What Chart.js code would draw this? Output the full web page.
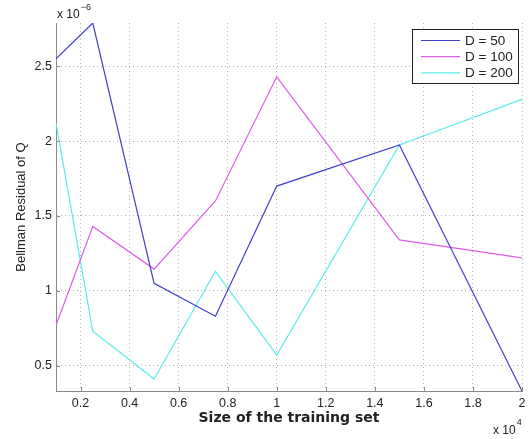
<!DOCTYPE html>
<html>
<head>
<meta charset="utf-8">
<script src="https://cdn.jsdelivr.net/npm/chart.js@4.4.1/dist/chart.umd.min.js"></script>
<style>
    html, body { margin: 0; padding: 0; background: #fff; }
    #wrap { width: 532px; height: 439px; }
</style>
</head>
<body>
<div id="wrap"><canvas id="residual_chart" width="532" height="439"></canvas></div>
<script>
// training set size (x 10^4)
const sizes = [0.1, 0.25, 0.5, 0.75, 1, 1.5, 2];
// Bellman residual of Q (x 10^-6)
const resD50 = [2.55, 2.79, 1.05, 0.83, 1.70, 1.975, 0.33];
const resD100 = [0.77, 1.43, 1.145, 1.60, 2.43, 1.34, 1.22];
const resD200 = [2.12, 0.73, 0.41, 1.13, 0.57, 1.975, 2.28];
const seriesNames = ['D = 50', 'D = 100', 'D = 200'];
const xTicks = [0.2, 0.4, 0.6, 0.8, 1, 1.2, 1.4, 1.6, 1.8, 2];
const yTicks = [0.5, 1, 1.5, 2, 2.5];

const FONT = '"Liberation Sans", Arial, sans-serif';
const colors = ['#3f3fcc', '#de5ee6', '#5cecec'];

function toPoints(values) {
    return sizes.map(function (x, i) {
        return {x: x, y: values[i]};
    });
}

function makeDataset(label, values, color) {
    return {
        label: label,
        data: toPoints(values),
        borderColor: color,
        backgroundColor: color,
        borderWidth: 1.2,
        pointRadius: 0,
        tension: 0,
        fill: false
    };
}

// axis labels, exponents, inner tick marks and the boxed legend, MATLAB style
const decorations = {
    id: 'decorations',
    afterDraw: function (chart) {
        const ctx = chart.ctx;
        const area = chart.chartArea;
        const xs = chart.scales.x;
        const ys = chart.scales.y;
        ctx.save();

        // small ticks pointing into the plot
        ctx.strokeStyle = '#8a8a8a';
        ctx.lineWidth = 1;
        ctx.beginPath();
        xTicks.forEach(function (v) {
            const px = Math.round(xs.getPixelForValue(v)) + 0.5;
            ctx.moveTo(px, area.bottom);
            ctx.lineTo(px, area.bottom - 4);
        });
        yTicks.forEach(function (v) {
            const py = Math.round(ys.getPixelForValue(v)) + 0.5;
            ctx.moveTo(area.left, py);
            ctx.lineTo(area.left + 4, py);
        });
        ctx.stroke();

        ctx.fillStyle = '#222';
        ctx.font = '13px ' + FONT;
        ctx.textAlign = 'center';
        ctx.textBaseline = 'middle';
        ctx.save();
        ctx.translate(21, (area.top + area.bottom) / 2);
        ctx.rotate(-Math.PI / 2);
        ctx.fillText('Bellman Residual of Q', 0, 0);
        ctx.restore();

        ctx.font = 'bold 14px "DejaVu Sans", sans-serif';
        ctx.fillText('Size of the training set', (area.left + area.right) / 2, 418);

        ctx.textAlign = 'left';
        ctx.textBaseline = 'alphabetic';
        ctx.font = '12px ' + FONT;
        ctx.fillText('x 10', 57, 18);
        let w = ctx.measureText('x 10').width;
        ctx.font = '9px ' + FONT;
        ctx.fillText('\u22126', 57 + w + 1, 10);

        ctx.font = '12px ' + FONT;
        ctx.fillText('x 10', 493, 434);
        w = ctx.measureText('x 10').width;
        ctx.font = '9px ' + FONT;
        ctx.fillText('4', 493 + w + 1, 425);

        // legend
        const bx = 412, by = 29, bw = 106, bh = 54;
        ctx.fillStyle = '#fff';
        ctx.fillRect(bx, by, bw, bh);
        ctx.strokeStyle = '#222';
        ctx.lineWidth = 1;
        ctx.strokeRect(bx + 0.5, by + 0.5, bw, bh);
        ctx.font = '13.5px ' + FONT;
        ctx.textBaseline = 'middle';
        chart.data.datasets.forEach(function (ds, i) {
            const yy = 40.5 + i * 16.2;
            ctx.strokeStyle = ds.borderColor;
            ctx.lineWidth = 1.2;
            ctx.beginPath();
            ctx.moveTo(421, yy);
            ctx.lineTo(460, yy);
            ctx.stroke();
            ctx.fillStyle = '#222';
            ctx.fillText(ds.label, 465, yy + 0.5);
        });
        ctx.restore();
    }
};

new Chart(document.getElementById('residual_chart'), {
    type: 'line',
    data: {
        datasets: [
            makeDataset(seriesNames[0], resD50, colors[0]),
            makeDataset(seriesNames[1], resD100, colors[1]),
            makeDataset(seriesNames[2], resD200, colors[2])
        ]
    },
    options: {
        responsive: false,
        animation: false,
        devicePixelRatio: 1,
        layout: {padding: {left: 0, right: 10, top: 23, bottom: 0}},
        plugins: {
            legend: {display: false},
            title: {display: false},
            tooltip: {enabled: false}
        },
        scales: {
            x: {
                type: 'linear',
                min: 0.1,
                max: 2,
                afterBuildTicks: function (scale) {
                    scale.ticks = xTicks.map(function (v) { return {value: v}; });
                },
                afterFit: function (scale) {
                    scale.height = 48;
                },
                ticks: {
                    color: '#222',
                    padding: 5,
                    maxRotation: 0,
                    autoSkip: false,
                    font: {family: FONT, size: 12.5},
                    callback: function (v) { return String(v); }
                },
                grid: {color: '#b4b4b4', lineWidth: 1, drawTicks: false},
                border: {display: true, color: '#8a8a8a', width: 1, dash: [1, 3]}
            },
            y: {
                type: 'linear',
                min: 0.33,
                max: 2.79,
                afterBuildTicks: function (scale) {
                    scale.ticks = yTicks.map(function (v) { return {value: v}; });
                },
                afterFit: function (scale) {
                    scale.width = 56;
                },
                ticks: {
                    color: '#222',
                    padding: 4,
                    autoSkip: false,
                    font: {family: FONT, size: 12.5},
                    callback: function (v) { return String(v); }
                },
                grid: {color: '#b4b4b4', lineWidth: 1, drawTicks: false},
                border: {display: true, color: '#8a8a8a', width: 1, dash: [1, 3]}
            }
        }
    },
    plugins: [decorations]
});
</script>
</body>
</html>
